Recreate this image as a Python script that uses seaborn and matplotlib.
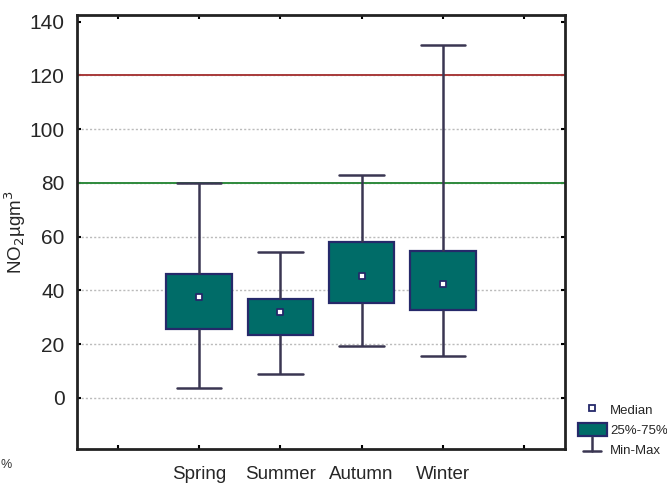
import numpy as np
import pandas as pd
import matplotlib
matplotlib.use("Agg")
import matplotlib.pyplot as plt
import seaborn as sns
from matplotlib.lines import Line2D
from matplotlib.patches import Patch
from matplotlib.legend_handler import HandlerBase

# ---- data ----
seasons = ["Spring", "Summer", "Autumn", "Winter"]
minimum = [3.6, 8.8, 19.3, 15.7]
q1 = [25.8, 23.4, 35.4, 32.8]
median = [37.5, 32.0, 45.3, 42.5]
q3 = [46.2, 36.9, 57.9, 54.8]
maximum = [80.0, 54.2, 83.0, 131.5]
limit_red = 120
limit_green = 80
yticks = [0, 20, 40, 60, 80, 100, 120, 140]
legend_labels = ["Median", "25%-75%", "Min-Max"]

# five-number summary per season -> boxplot with whiskers at min/max
rows = []
for s, a, b, c, d, e in zip(seasons, minimum, q1, median, q3, maximum):
    for v in (a, b, c, d, e):
        rows.append({"season": s, "value": v})
df = pd.DataFrame(rows)

teal = "#006C68"
navy = "#25296A"
wcol = "#3A3652"

sns.set_style("white")
plt.rcParams["font.family"] = ["Liberation Sans", "DejaVu Sans"]

fig = plt.figure(figsize=(6.67, 4.83), dpi=100)
ax = fig.add_axes([77 / 667, 1 - 449 / 483, (565 - 77) / 667, (449 - 15) / 483])

sns.boxplot(data=df, x="season", y="value", order=seasons, whis=(0, 100),
            width=0.8, showfliers=False, ax=ax, linewidth=1.6,
            boxprops=dict(facecolor=teal, edgecolor=navy, linewidth=1.6),
            whiskerprops=dict(color=wcol, linewidth=1.8),
            capprops=dict(color=wcol, linewidth=1.8),
            medianprops=dict(linewidth=0),
            capwidths=0.55, zorder=3)

sns.stripplot(x=seasons, y=median, order=seasons, jitter=False, marker="s",
              size=4.5, color="white", edgecolor=navy, linewidth=1.3, ax=ax,
              zorder=6)

# dotted grid (none at the top tick)
for t in yticks[:-1]:
    ax.axhline(t, color="#BBBBBB", linestyle=(0, (1.5, 1.5)), lw=1, zorder=0)
ax.axhline(limit_red, color="#A83A3A", lw=1.4, zorder=2)
ax.axhline(limit_green, color="#2E8A3C", lw=1.4, zorder=2)

ax.set_xlim(-1.5, 4.5)
ax.set_ylim(-19, 142.5)
ax.set_xticks([-1, 0, 1, 2, 3, 4])
ax.set_xticklabels([""] + seasons + [""], fontsize=13.5)
ax.set_yticks(yticks)
ax.set_yticklabels([str(t) for t in yticks], fontsize=15)
ax.tick_params(axis="both", direction="in", length=3, width=1.5, color="black",
               top=True, right=True, left=True, bottom=True)
ax.tick_params(axis="x", pad=12)
ax.tick_params(axis="y", pad=9)
ax.grid(False)
for sp in ax.spines.values():
    sp.set_visible(True)
    sp.set_color("#222222")
    sp.set_linewidth(2)
ax.set_xlabel("")
ax.set_ylabel(r"NO$_2$µgm$^3$", fontsize=13.5, labelpad=1)


class MinMaxHandler(HandlerBase):
    def create_artists(self, legend, orig_handle, x0, y0, width, height,
                       fontsize, trans):
        cx = x0 + width / 2
        l1 = Line2D([cx, cx], [y0 + height * 1.2, y0 + 0.1 * height],
                    color=wcol, lw=1.8, transform=trans)
        l2 = Line2D([cx - width * 0.3, cx + width * 0.3],
                    [y0 + 0.1 * height, y0 + 0.1 * height], color=wcol,
                    lw=1.8, transform=trans)
        return [l1, l2]


h_med = Line2D([], [], marker="s", ls="", markersize=4.5,
               markerfacecolor="white", markeredgecolor=navy,
               markeredgewidth=1.3)
h_box = Patch(facecolor=teal, edgecolor=navy, linewidth=1.6)
h_mm = object()
leg = fig.legend([h_med, h_box, h_mm], legend_labels,
                 handler_map={object: MinMaxHandler()},
                 loc="lower left", bbox_to_anchor=(571 / 667, 1 - 464 / 483),
                 frameon=False, fontsize=9.5, handlelength=2.2,
                 handleheight=1.1, handletextpad=0.25, labelspacing=0.5,
                 borderpad=0)

fig.text(0.001, 1 - 468 / 483, "%", fontsize=9, color="#333333")

fig.savefig("out.png", dpi=100)
